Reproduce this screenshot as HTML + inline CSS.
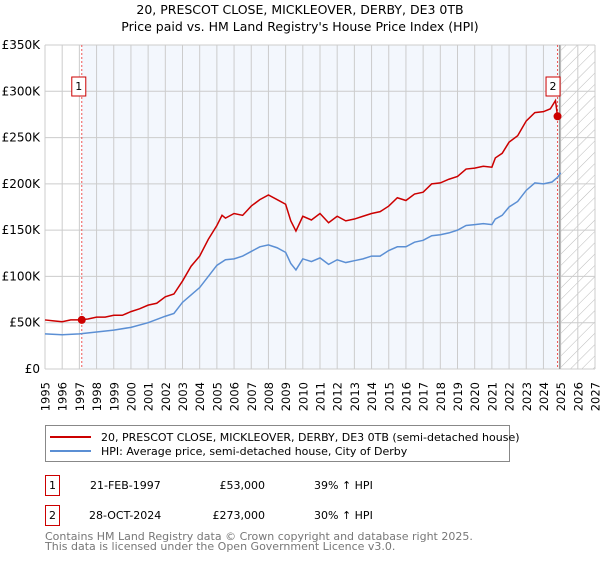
<!DOCTYPE html>
<html><head><meta charset="utf-8"><style>
body{margin:0;background:#fff;font-family:"Liberation Sans","DejaVu Sans",sans-serif;}
svg text{font-family:"DejaVu Sans","Liberation Sans",sans-serif;}
</style></head><body>
<svg width="600" height="560" xmlns="http://www.w3.org/2000/svg">
<defs><pattern id="hatch" width="8" height="8" patternUnits="userSpaceOnUse" patternTransform="rotate(45)"><line x1="0" y1="0" x2="0" y2="8" stroke="#bbb" stroke-width="1"/></pattern></defs>
<text x="300" y="14" text-anchor="middle" font-size="12.5">20, PRESCOT CLOSE, MICKLEOVER, DERBY, DE3 0TB</text>
<text x="300" y="31" text-anchor="middle" font-size="12.5">Price paid vs. HM Land Registry's House Price Index (HPI)</text>
<g id="plot"></g>
<g id="legend">
<rect x="45.5" y="425.5" width="464" height="36" fill="#fff" stroke="#888"/>
<line x1="50" y1="437" x2="91" y2="437" stroke="#cc0000" stroke-width="2"/>
<text x="101" y="441" font-size="11">20, PRESCOT CLOSE, MICKLEOVER, DERBY, DE3 0TB (semi-detached house)</text>
<line x1="50" y1="451" x2="91" y2="451" stroke="#5b8fd4" stroke-width="2"/>
<text x="101" y="455" font-size="11">HPI: Average price, semi-detached house, City of Derby</text>
</g>
<g font-size="11">
<rect x="45.5" y="475.5" width="14" height="20" fill="#fff" stroke="#cc0000"/>
<text x="52.5" y="489" text-anchor="middle">1</text>
<text x="90" y="489">21-FEB-1997</text>
<text x="265" y="489" text-anchor="end">£53,000</text>
<text x="314" y="489">39% ↑ HPI</text>
<rect x="45.5" y="505.5" width="14" height="20" fill="#fff" stroke="#cc0000"/>
<text x="52.5" y="519" text-anchor="middle">2</text>
<text x="89" y="519">28-OCT-2024</text>
<text x="265" y="519" text-anchor="end">£273,000</text>
<text x="314" y="519">30% ↑ HPI</text>
</g>
<text x="45" y="540" font-size="11" fill="#777">Contains HM Land Registry data © Crown copyright and database right 2025.</text>
<text x="45" y="550" font-size="11" fill="#777">This data is licensed under the Open Government Licence v3.0.</text>
</svg>
<script>
const years=[1995,1996,1997,1998,1999,2000,2001,2002,2003,2004,2005,2006,2007,2008,2009,2010,2011,2012,2013,2014,2015,2016,2017,2018,2019,2020,2021,2022,2023,2024,2025,2026,2027];
const yTicks=[0,50000,100000,150000,200000,250000,300000,350000];
const yTickLabels=["£0","£50K","£100K","£150K","£200K","£250K","£300K","£350K"];
const propT=[1995,1995.5,1996,1996.5,1997,1997.5,1998,1998.5,1999,1999.5,2000,2000.5,2001,2001.5,2002,2002.5,2003,2003.5,2004,2004.5,2005,2005.3,2005.5,2006,2006.5,2007,2007.5,2008,2008.5,2009,2009.3,2009.6,2010,2010.5,2011,2011.5,2012,2012.5,2013,2013.5,2014,2014.5,2015,2015.5,2016,2016.5,2017,2017.5,2018,2018.5,2019,2019.5,2020,2020.5,2021,2021.2,2021.6,2022,2022.5,2023,2023.5,2024,2024.4,2024.7,2024.82,2025];
const propV=[53,52,51,53,53,54,56,56,58,58,62,65,69,71,78,81,95,111,122,140,155,166,163,168,166,176,183,188,183,178,160,149,165,161,168,158,165,160,162,165,168,170,176,185,182,189,191,200,201,205,208,216,217,219,218,228,233,245,252,268,277,278,281,290,273,273];
const hpiT=[1995,1996,1997,1998,1999,2000,2001,2002,2002.5,2003,2003.5,2004,2004.5,2005,2005.5,2006,2006.5,2007,2007.5,2008,2008.5,2009,2009.3,2009.6,2010,2010.5,2011,2011.5,2012,2012.5,2013,2013.5,2014,2014.5,2015,2015.5,2016,2016.5,2017,2017.5,2018,2018.5,2019,2019.5,2020,2020.5,2021,2021.2,2021.6,2022,2022.5,2023,2023.5,2024,2024.5,2024.82,2025];
const hpiV=[38,37,38,40,42,45,50,57,60,72,80,88,100,112,118,119,122,127,132,134,131,126,114,107,119,116,120,113,118,115,117,119,122,122,128,132,132,137,139,144,145,147,150,155,156,157,156,162,166,175,181,193,201,200,202,207,212];
const salesT=[1997.14,2024.82];
const salesV=[53000,273000];
const L=45,R=595,T=45,B=369;
const x=t=>L+(t-1995)/(2027-1995)*(R-L);
const y=v=>B-v/350000*(B-T);
const NS="http://www.w3.org/2000/svg";
const g=document.getElementById('plot');
function mk(tag,at,parent){const e=document.createElementNS(NS,tag);for(const k in at)e.setAttribute(k,at[k]);(parent||g).appendChild(e);return e;}
let e;
e=mk('rect',{x:x(salesT[0]),y:T,width:x(salesT[1])-x(salesT[0]),height:B-T,fill:'#eef3fc',opacity:0.7});


e=mk('rect',{x:x(2025),y:T,width:R-x(2025),height:B-T,fill:'url(#hatch)'});


years.forEach(yr=>{
 e=mk('line',{x1:x(yr),x2:x(yr),y1:T,y2:B,stroke:'#ccc','stroke-width':1});
 
 
 e=mk('text',{x:0,y:0,transform:`translate(${x(yr)+4.5},382) rotate(-90)`,'text-anchor':'end','font-size':11.5});
 e.textContent=yr;
 
 
});
yTicks.forEach((v,i)=>{
 e=mk('line',{x1:L,x2:R,y1:y(v),y2:y(v),stroke:'#ccc','stroke-width':1});
 
 
 e=mk('text',{x:40,y:y(v)+4,'text-anchor':'end','font-size':12});
 e.textContent=yTickLabels[i];
 
 
});
e=mk('line',{x1:x(2025)-1,x2:x(2025)-1,y1:T,y2:B,stroke:'#999','stroke-width':1.5});


salesT.forEach((t,i)=>{
 e=mk('line',{x1:x(t),x2:x(t),y1:T,y2:B,stroke:'#e55','stroke-width':1,'stroke-dasharray':'2,2'});
 
 
});
e=mk('polyline',{points:hpiT.map((t,i)=>x(t)+','+y(hpiV[i]*1000)).join(' '),fill:'none',stroke:'#5b8fd4','stroke-width':1.5});


e=mk('polyline',{points:propT.map((t,i)=>x(t)+','+y(propV[i]*1000)).join(' '),fill:'none',stroke:'#cc0000','stroke-width':1.5});


salesT.forEach((t,i)=>{
 e=mk('circle',{cx:x(t),cy:y(salesV[i]),r:4,fill:'#cc0000'});
 
 
 const bx=x(t)-(i==0?3:4.5);
 e=mk('rect',{x:bx-7,y:77,width:14,height:19,fill:'#fff',stroke:'#cc0000'});
 
 
 e=mk('text',{x:bx,y:90,'text-anchor':'middle','font-size':11});
 e.textContent=String(i+1);
 
 
});
</script>
</body></html>
